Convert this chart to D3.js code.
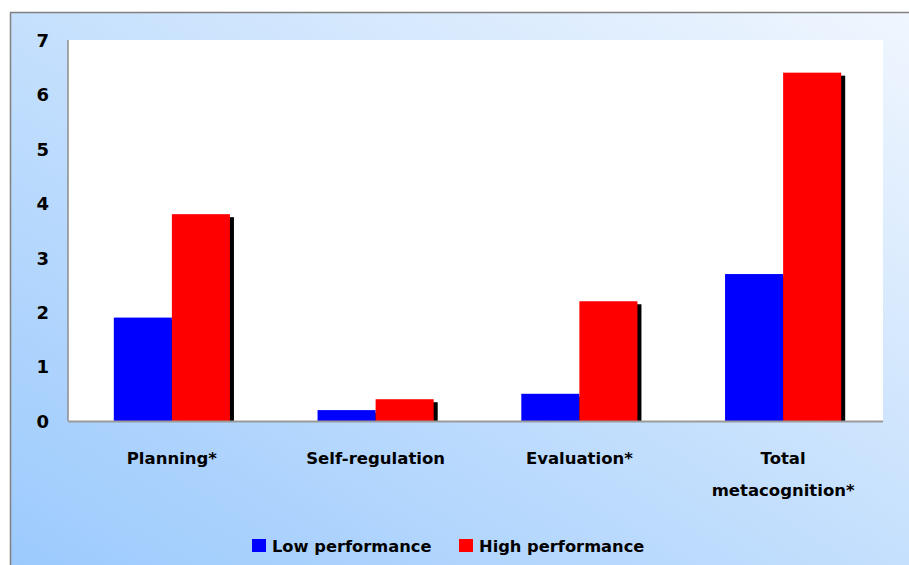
<!DOCTYPE html>
<html>
<head>
<meta charset="utf-8">
<script src="https://cdn.jsdelivr.net/npm/d3@7"></script>
<style>
  html, body { margin: 0; padding: 0; background: #fff; }
  svg { display: block; }
  text { font-family: "DejaVu Sans", Verdana, sans-serif; font-weight: bold; fill: #000; }
</style>
</head>
<body>
<svg id="chart" width="909" height="565"></svg>
<script>
// Mean metacognition scores by performance group
const categories = [["Planning*"], ["Self-regulation"], ["Evaluation*"], ["Total", "metacognition*"]];
const lowPerformance = [1.9, 0.2, 0.5, 2.7];
const highPerformance = [3.8, 0.4, 2.2, 6.4];
const seriesNames = ["Low performance", "High performance"];
const seriesColors = ["#0000ff", "#ff0000"];
const yTicks = [0, 1, 2, 3, 4, 5, 6, 7];

const svg = d3.select("#chart");
const W = 909, H = 565;

// Background gradient panel
const defs = svg.append("defs");
const grad = defs.append("linearGradient")
  .attr("id", "bg").attr("x1", "0%").attr("y1", "100%").attr("x2", "100%").attr("y2", "0%");
grad.append("stop").attr("offset", "0%").attr("stop-color", "#9ccafd");
grad.append("stop").attr("offset", "55%").attr("stop-color", "#c9e2fd");
grad.append("stop").attr("offset", "100%").attr("stop-color", "#f0f6fe");

svg.append("rect").attr("x", 10).attr("y", 12).attr("width", W - 10).attr("height", H - 12)
  .attr("fill", "url(#bg)");
svg.append("path").attr("d", `M10.5,${H} V12.5 H${W}`)
  .attr("fill", "none").attr("stroke", "#808080").attr("stroke-width", 1.5);

const plot = { left: 68, top: 40, right: 883, bottom: 421 };

svg.append("rect")
  .attr("x", plot.left).attr("y", plot.top)
  .attr("width", plot.right - plot.left).attr("height", plot.bottom - plot.top)
  .attr("fill", "#ffffff");

const x0 = d3.scaleBand().domain(d3.range(categories.length))
  .range([plot.left + 2, plot.right + 2]).paddingInner(0.43).paddingOuter(0.215);
const x1 = d3.scaleBand().domain([0, 1]).range([0, x0.bandwidth()]);
const y = d3.scaleLinear().domain([0, 7]).range([plot.bottom, plot.top]);

const rows = categories.map((c, i) => ({ i, values: [lowPerformance[i], highPerformance[i]] }));

const groups = svg.append("g").selectAll("g").data(rows).join("g")
  .attr("transform", d => `translate(${x0(d.i)},0)`);

// Drop shadows behind the bars
groups.selectAll("rect.shadow").data(d => d.values.map((v, k) => ({ v, k })))
  .join("rect").attr("class", "shadow")
  .attr("x", d => x1(d.k) + 4)
  .attr("y", d => Math.min(y(d.v) + 3, plot.bottom))
  .attr("width", x1.bandwidth())
  .attr("height", d => Math.max(0, plot.bottom - y(d.v) - 3))
  .attr("fill", "#000");

groups.selectAll("rect.bar").data(d => d.values.map((v, k) => ({ v, k })))
  .join("rect").attr("class", "bar")
  .attr("x", d => x1(d.k))
  .attr("y", d => y(d.v))
  .attr("width", x1.bandwidth())
  .attr("height", d => plot.bottom - y(d.v))
  .attr("fill", d => seriesColors[d.k]);

// Plot frame lines
svg.append("line").attr("x1", plot.left).attr("x2", plot.left)
  .attr("y1", plot.top).attr("y2", plot.bottom)
  .attr("stroke", "#8c8c8c").attr("stroke-width", 1.5);
svg.append("line").attr("x1", plot.left).attr("x2", plot.right)
  .attr("y1", plot.bottom + 0.5).attr("y2", plot.bottom + 0.5)
  .attr("stroke", "#9a9a9a").attr("stroke-width", 2);

// Y axis
const yAxis = d3.axisLeft(y).tickValues(yTicks).tickSize(0).tickPadding(19).tickFormat(d3.format("d"));
const ya = svg.append("g").attr("transform", `translate(${plot.left},0)`).call(yAxis);
ya.select(".domain").remove();
ya.selectAll("text").style("font-size", "18px").attr("dy", "0.35em")
  .style("font-family", "'DejaVu Sans', sans-serif").style("font-weight", "bold");

// Category labels
const xa = svg.append("g");
categories.forEach((lines, i) => {
  const cx = x0(i) + x0.bandwidth() / 2;
  const t = xa.append("text").attr("text-anchor", "middle").style("font-size", "16.5px");
  lines.forEach((ln, j) => {
    t.append("tspan").attr("x", cx).attr("y", 464 + j * 32).text(ln);
  });
});

// Legend
const legend = svg.append("g");
const legendItems = [
  { name: seriesNames[0], color: seriesColors[0], x: 252 },
  { name: seriesNames[1], color: seriesColors[1], x: 459 }
];
legendItems.forEach(it => {
  legend.append("rect").attr("x", it.x).attr("y", 539).attr("width", 14).attr("height", 13)
    .attr("fill", it.color);
  legend.append("text").attr("x", it.x + 20).attr("y", 552).style("font-size", "16.3px").text(it.name);
});
</script>
</body>
</html>
